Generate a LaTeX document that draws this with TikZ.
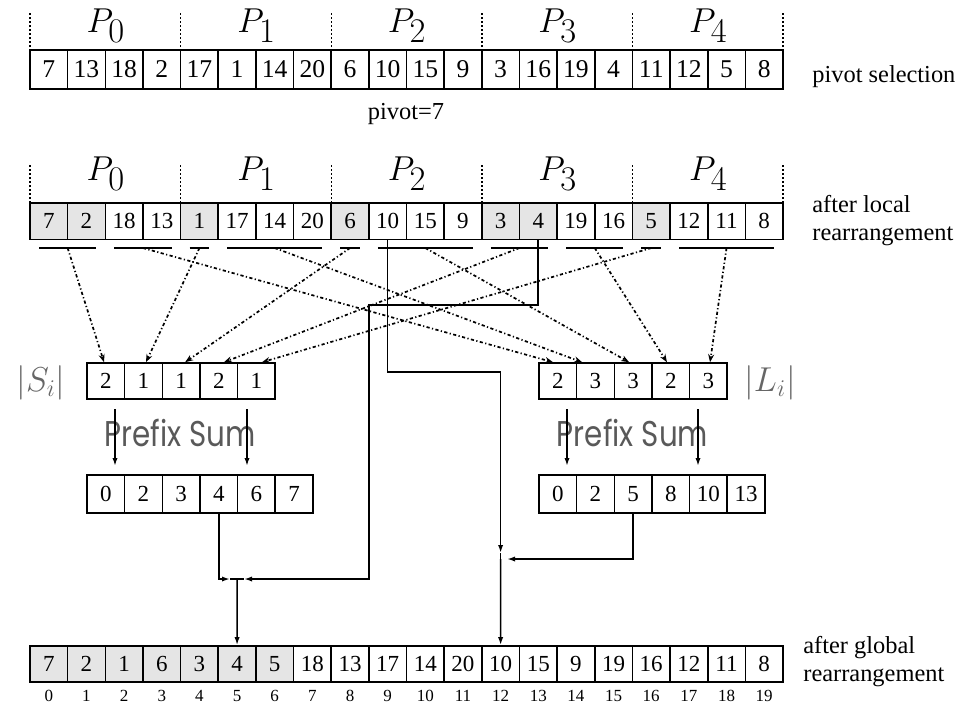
\documentclass[tikz,border=0pt]{standalone}
\usepackage[no-math]{fontspec}
\usepackage{graphicx}
\setmainfont{Liberation Serif}
\newfontfamily\psfont{Poppins}
\usetikzlibrary{arrows.meta}
\definecolor{cellgray}{gray}{0.9}
\tikzset{
  cell/.style={draw, line width=0.8pt, minimum width=18.825pt, minimum height=18pt, inner sep=0pt, font=\fontsize{11.5}{11.5}\selectfont},
  bigcell/.style={cell, minimum height=19.5pt, font=\fontsize{12.8}{12.8}\selectfont},
  psep/.style={line width=0.7pt, dash pattern=on 0.8pt off 1.2pt},
  plab/.style={anchor=base, font=\fontsize{16.5}{16.5}\selectfont},
  seg/.style={line width=0.75pt},
  dd/.style={line width=0.85pt, dash pattern=on 1.6pt off 1.2pt on 0.6pt off 1.2pt, -{Stealth[length=4pt,width=3pt]}},
  conn/.style={line width=0.8pt},
  arr/.style={conn, -{Latex[length=4pt,width=2.6pt]}},
  lab/.style={anchor=base west, inner sep=0pt, font=\fontsize{12.2}{14}\selectfont},
  idx/.style={inner sep=0pt, font=\fontsize{8.5}{8.5}\selectfont},
  setlab/.style={inner sep=0pt, text=black!60, font=\fontsize{17}{17}\selectfont},
  pslab/.style={inner sep=0pt, text=black!65, font=\psfont\fontsize{17.9}{18}\selectfont},
}
\begin{document}
\begin{tikzpicture}[x=0.5pt,y=-0.5pt]
\useasboundingbox (0,0) rectangle (957,703);
% ---- row 1
\foreach \v [count=\i from 0] in {7,13,18,2,17,1,14,20,6,10,15,9,3,16,19,4,11,12,5,8}
  \node[bigcell] (a\i) at ({30+37.65*(\i+0.5)},69.5) {\v};
\foreach \k in {0,...,5}
  \draw[psep] ({30+150.6*\k},13) -- ({30+150.6*\k},49);
\foreach \k in {0,...,4}
  \node[plab] (pa\k) at ({106+150.6*\k},32) {$P_{\textstyle\k}$};
\node[lab] (t1) at (812,82) {pivot selection};
\node[lab, anchor=base] (t2) at (406,119) {\rmfamily pivot=7};
% ---- row 2
\foreach \v/\f [count=\i from 0] in {7/cellgray,2/cellgray,18/white,13/white,1/cellgray,17/white,14/white,20/white,6/cellgray,10/white,15/white,9/white,3/cellgray,4/cellgray,19/white,16/white,5/cellgray,12/white,11/white,8/white}
  \node[cell, minimum height=18.3pt, fill=\f] (r\i) at ({30+37.65*(\i+0.5)},221) {\v};
\foreach \k in {0,...,5}
  \draw[psep] ({30+150.6*\k},165) -- ({30+150.6*\k},202);
\foreach \k in {0,...,4}
  \node[plab] (pb\k) at ({106+150.6*\k},180) {$P_{\textstyle\k}$};
\node[lab] (t3) at (812,212) {after local};
\node[lab] (t4) at (812,240) {rearrangement};
% ---- segments under groups
\foreach \k/\n in {0/2,1/1,2/1,3/2,4/1} {
  \pgfmathsetmacro\gs{30+150.6*\k}
  \pgfmathsetmacro\gm{\gs+37.65*\n}
  \draw[seg] ({\gs+9},248) -- ({\gm-9},248);
  \draw[seg] ({\gm+9},248) -- ({\gs+141.6},248);
  \coordinate (sm\k) at ({(\gs+\gm)/2},248);
  \coordinate (lg\k) at ({(\gm+\gs+150.6)/2},248);
}
% ---- |S_i| and |L_i|
\foreach \v [count=\i from 0] in {2,1,1,2,1}
  \node[cell] (s\i) at ({87+37.65*(\i+0.5)},381) {\v};
\foreach \v [count=\i from 0] in {2,3,3,2,3}
  \node[cell] (l\i) at ({539+37.65*(\i+0.5)},381) {\v};
\node[setlab] (slab) at (41,383) {$|S_i|$};
\node[setlab] (llab) at (770,383) {$|L_i|$};
% ---- dotted arrows
\draw[dd] (sm0) -- ([xshift=-0.9pt]s0.north);
\draw[dd] (sm1) -- ([xshift=1.25pt]s1.north);
\draw[dd] (sm2) -- ([xshift=2pt]s2.north);
\draw[dd] (sm3) -- ([xshift=2.6pt]s3.north);
\draw[dd] (sm4) -- ([xshift=2.8pt]s4.north);
\draw[dd] (lg0) -- ([xshift=-2.4pt]l0.north);
\draw[dd] (lg1) -- ([xshift=-6.7pt]l1.north);
\draw[dd] (lg2) -- ([xshift=-2pt]l2.north);
\draw[dd] (lg3) -- ([xshift=-1.9pt]l3.north);
\draw[dd] (lg4) -- ([xshift=0.8pt]l4.north);
% ---- prefix sum
\node[pslab] (pfs) at (180,433) {\scalebox{0.82}[1]{Prefix Sum}};
\node[pslab] (pfl) at (632.5,433) {\scalebox{0.82}[1]{Prefix Sum}};
\foreach \v [count=\i from 0] in {0,2,3,4,6,7}
  \node[cell, minimum height=19pt] (ps\i) at ({87+37.65*(\i+0.5)},494) {\v};
\foreach \v [count=\i from 0] in {0,2,5,8,10,13}
  \node[cell, minimum height=19pt] (pl\i) at ({539+37.65*(\i+0.5)},494) {\v};
\coordinate (u0) at (115,409); \coordinate (v0) at (115,466);
\coordinate (u1) at (247,409); \coordinate (v1) at (247,466);
\coordinate (u2) at (567,409); \coordinate (v2) at (567,466);
\coordinate (u3) at (698,409); \coordinate (v3) at (698,466);
\foreach \k in {0,...,3} \draw[arr] (u\k) -- (v\k);
% ---- bottom row
\foreach \v/\f [count=\i from 0] in {7/cellgray,2/cellgray,1/cellgray,6/cellgray,3/cellgray,4/cellgray,5/cellgray,18/white,13/white,17/white,14/white,20/white,10/white,15/white,9/white,19/white,16/white,12/white,11/white,8/white}
  \node[cell, fill=\f] (b\i) at ({30+37.65*(\i+0.5)},664) {\v};
\foreach \i in {0,...,19}
  \node[idx] (i\i) at ({30+37.65*(\i+0.5)},696) {\i};
\node[lab] (t5) at (803,653) {after global};
\node[lab] (t6) at (803,681) {rearrangement};
% ---- solid routes (small side)
\coordinate (ka) at (369,305);
\coordinate (kb) at (369,579);
\coordinate (kc) at (244,579);
\coordinate (kd) at (230,579);
\coordinate (ja) at (237.1,579);
\draw[arr] (r13.south) |- (ka) -- (kb) -- (kc);
\draw[arr] (ps3.south) |- (kd);
\draw[conn] (kd) -- (kc);
\draw[arr] (ja) -- (b5.north);
% ---- solid routes (large side)
\coordinate (mb) at (500.6,372);
\coordinate (mc) at (500.6,553);
\coordinate (md) at (507,559);
\coordinate (jb) at (500.6,559);
\draw[arr] (r9.south) |- (mb) -- (mc);
\draw[arr] (pl2.south) |- (md);
\draw[conn] (mc) -- (jb);
\draw[arr] (jb) -- (b12.north);
\end{tikzpicture}
\end{document}
